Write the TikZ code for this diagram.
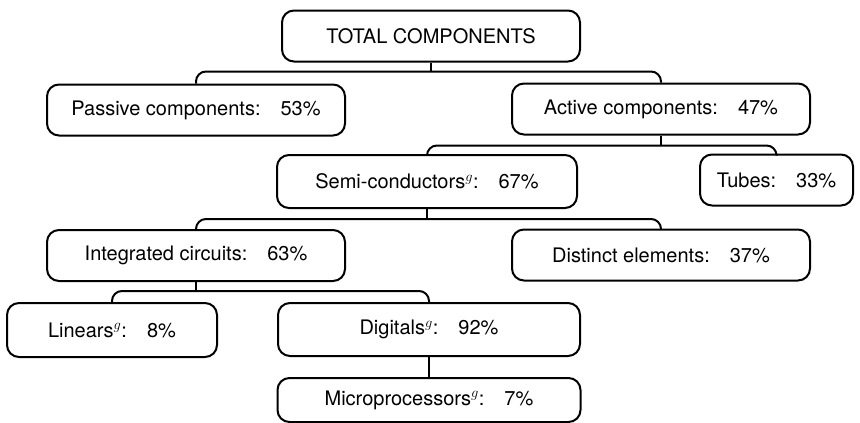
\documentclass[tikz,border=0pt]{standalone}
\usepackage{fontspec}
\setmainfont{TeX Gyre Heros}
\usetikzlibrary{positioning, calc}

\begin{document}
\begin{tikzpicture}[x=1pt, y=-1pt, line width=2pt,
  compbox/.style={rectangle, rounded corners=12pt, draw, minimum width=298pt,
    minimum height=51pt, inner sep=0pt, align=center, font=\fontsize{20}{24}\selectfont},
  link/.style={rounded corners=10pt}]
  \useasboundingbox (0,0) rectangle (860,423);

  % tree of components
  \node[compbox] (total) at (431,36) {TOTAL COMPONENTS};
  \node[compbox] (passive) at (196,110) {Passive components:\quad 53\%};
  \node[compbox] (active) at (661,109) {Active components:\quad 47\%};
  \node[compbox, minimum width=300pt, minimum height=53pt] (semi) at (427,181.5) {Semi-conductors$^{g}$:\quad 67\%};
  \node[compbox, minimum width=153pt] (tubes) at (776.5,180) {Tubes:\quad 33\%};
  \node[compbox] (integrated) at (196,255.5) {Integrated circuits:\quad 63\%};
  \node[compbox] (distinct) at (661,255) {Distinct elements:\quad 37\%};
  \node[compbox, minimum width=210pt, minimum height=54pt] (linears) at (112,330) {Linears$^{g}$:\quad 8\%};
  \node[compbox, minimum width=302pt, minimum height=53pt] (digitals) at (429,329.5) {Digitals$^{g}$:\quad 92\%};
  \node[compbox, minimum width=303pt, minimum height=44pt, below=20pt of digitals] (micro) {Microprocessors$^{g}$:\quad 7\%};

  % connectors
  \draw (total.south) -- ++(0,9) coordinate (j1);
  \draw[link] (passive.north) |- (j1) -| (active.north);
  \draw (active.south) -- ++(0,10) coordinate (j2);
  \draw[link] (semi.north) |- (j2) -| (tubes.north);
  \draw (semi.south) -- ++(0,10) coordinate (j3);
  \draw[link] (integrated.north) |- (j3) -| (distinct.north);
  \draw (integrated.south) -- ++(0,9) coordinate (j4);
  \draw[link] (linears.north) |- (j4) -| (digitals.north);
  \draw (digitals) -- (micro);
\end{tikzpicture}
\end{document}
